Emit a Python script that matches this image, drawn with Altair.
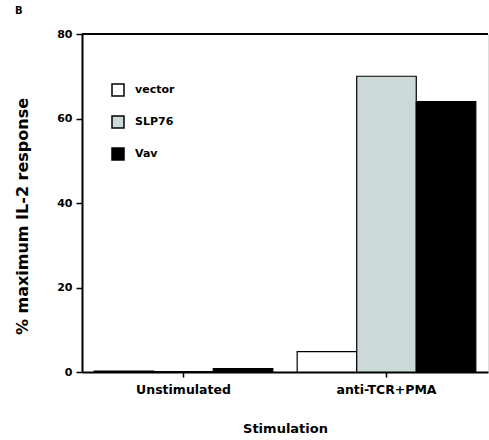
import altair as alt
import pandas as pd

stimulations = ["Unstimulated", "anti-TCR+PMA"]
series = ["vector", "SLP76", "Vav"]
unstim_values = [0.2, 0.1, 0.8]
tcr_values = [4.8, 70.0, 64.0]
y_ticks = [0, 20, 40, 60, 80]
colors = ["#ffffff", "#cbdad8", "#000000"]

rows = []
for s, v in zip(series, unstim_values):
    rows.append({"Stimulation": stimulations[0], "series": s, "value": v})
for s, v in zip(series, tcr_values):
    rows.append({"Stimulation": stimulations[1], "series": s, "value": v})
df = pd.DataFrame(rows)

FONT = "DejaVu Sans"

bars = alt.Chart(df).mark_bar(stroke="black", strokeWidth=1.2).encode(
    x=alt.X("Stimulation:N", sort=stimulations,
            scale=alt.Scale(paddingInner=0.12, paddingOuter=0.06),
            axis=alt.Axis(title="Stimulation", labelAngle=0, labelFont=FONT,
                          labelFontWeight="bold", labelFontSize=12.5,
                          labelColor="black", labelPadding=6,
                          titleFont=FONT, titleFontWeight="bold",
                          titleFontSize=13, titleColor="black",
                          titlePadding=27,
                          domainColor="black", domainWidth=2,
                          tickColor="black", tickSize=5, tickWidth=1.5)),
    xOffset=alt.XOffset("series:N", sort=series,
                        scale=alt.Scale(paddingInner=0, paddingOuter=0)),
    y=alt.Y("value:Q", scale=alt.Scale(domain=[0, 80], nice=False),
            axis=alt.Axis(values=y_ticks, title="% maximum IL-2 response",
                          grid=False, labelFont=FONT, labelFontWeight="bold",
                          labelFontSize=11, labelColor="black",
                          labelPadding=4,
                          titleFont=FONT, titleFontWeight="bold",
                          titleFontSize=16, titleColor="black",
                          titlePadding=26, titleY=182,
                          domainColor="black", domainWidth=2,
                          tickColor="black", tickSize=6, tickWidth=1.5)),
    fill=alt.Fill("series:N", sort=series,
                  scale=alt.Scale(domain=series, range=colors),
                  legend=alt.Legend(title=None, orient="none",
                                    legendX=29, legendY=49,
                                    symbolType="square", symbolSize=144,
                                    symbolStrokeColor="black",
                                    symbolStrokeWidth=1.5,
                                    labelFont=FONT, labelFontWeight="bold",
                                    labelFontSize=11, labelColor="black",
                                    labelOffset=10, rowPadding=14)),
)

top_line = alt.Chart(pd.DataFrame({"y": [80]})).mark_rule(
    color="black", strokeWidth=2
).encode(y=alt.Y("y:Q"))

chart = alt.layer(bars, top_line).properties(
    width=406, height=338,
    title=alt.Title("B", anchor="start", frame="group", dx=-67, offset=12,
                    font=FONT, fontSize=10, fontWeight="bold", color="black"),
    autosize=alt.AutoSizeParams(type="none"),
    padding={"left": 82, "top": 34, "right": 1, "bottom": 68},
).configure_view(stroke=None).configure(background="white")

chart.save("out.html", embed_options={"renderer": "svg", "actions": False})
